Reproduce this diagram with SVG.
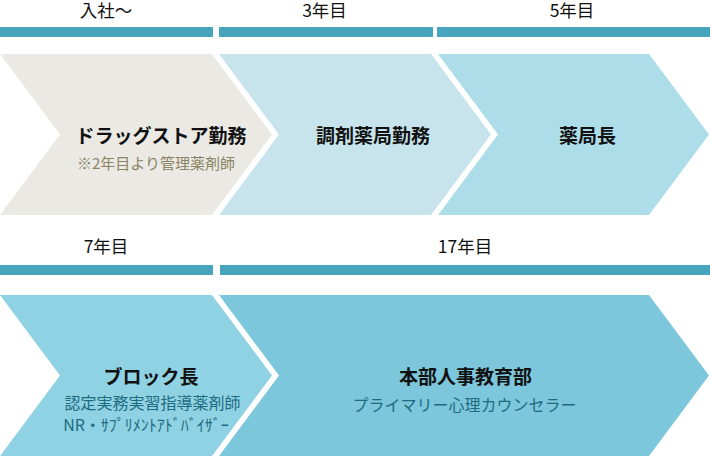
<svg xmlns="http://www.w3.org/2000/svg" width="710" height="457" viewBox="0 0 710 457">
<style>
  .bar { fill: #47a4bd; }
  .lbl { font-family: "Noto Sans CJK JP", "Noto Sans", sans-serif; font-size: 17.5px; fill: #111; text-anchor: middle; }
  .ttl { font-family: "Noto Sans CJK JP", "Noto Sans", sans-serif; font-size: 19px; font-weight: bold; fill: #111; text-anchor: middle; }
  .sub1 { font-family: "Noto Sans CJK JP", "Noto Sans", sans-serif; font-size: 15px; fill: #8a8464; text-anchor: middle; }
  .sub2 { font-family: "Noto Sans CJK JP", "Noto Sans", sans-serif; font-size: 16px; fill: #1e6b80; text-anchor: middle; }
</style>
<rect width="710" height="457" fill="#ffffff"/>
<g id="connectors">
  <rect class="bar" x="0" y="27" width="213" height="10"/>
  <rect class="bar" x="219" y="27" width="214" height="10"/>
  <rect class="bar" x="437" y="27" width="273" height="10"/>
  <rect class="bar" x="0" y="265" width="213" height="10"/>
  <rect class="bar" x="220" y="265" width="490" height="10"/>
</g>
<g id="labels">
  <text class="lbl" x="106" y="16.5">入社〜</text>
  <text class="lbl" x="324.5" y="16.5">3年目</text>
  <text class="lbl" x="572" y="16.5">5年目</text>
  <text class="lbl" x="106" y="253">7年目</text>
  <text class="lbl" x="465" y="253">17年目</text>
</g>
<g id="node-drugstore">
  <polygon points="0,54 212,54 272,134.5 212,215 0,215 60,134.5" fill="#eae9e4"/>
  <text class="ttl" x="161" y="142.5">ドラッグストア勤務</text>
  <text class="sub1" x="156" y="169">※2年目より管理薬剤師</text>
</g>
<g id="node-chozai">
  <polygon points="219,54 431,54 491,134.5 431,215 219,215 279,134.5" fill="#c7e4ec"/>
  <text class="ttl" x="373" y="142.5">調剤薬局勤務</text>
</g>
<g id="node-yakkyokucho">
  <polygon points="438,54 649,54 709,134.5 649,215 438,215 498,134.5" fill="#acdde9"/>
  <text class="ttl" x="587.5" y="142.5">薬局長</text>
</g>
<g id="node-block">
  <polygon points="0,295 212,295 272,375.5 212,456 0,456 60,375.5" fill="#8fd2e3"/>
  <text class="ttl" x="151" y="383.5">ブロック長</text>
  <text class="sub2" x="152.5" y="409">認定実務実習指導薬剤師</text>
  <text class="sub2" x="146" y="431">NR・ｻﾌﾟﾘﾒﾝﾄｱﾄﾞﾊﾞｲｻﾞｰ</text>
</g>
<g id="node-honbu">
  <polygon points="219,295 649,295 709,375.5 649,456 219,456 279,375.5" fill="#7cc7db"/>
  <text class="ttl" x="465.5" y="383.5">本部人事教育部</text>
  <text class="sub2" x="464.5" y="411">プライマリー心理カウンセラー</text>
</g>
</svg>
